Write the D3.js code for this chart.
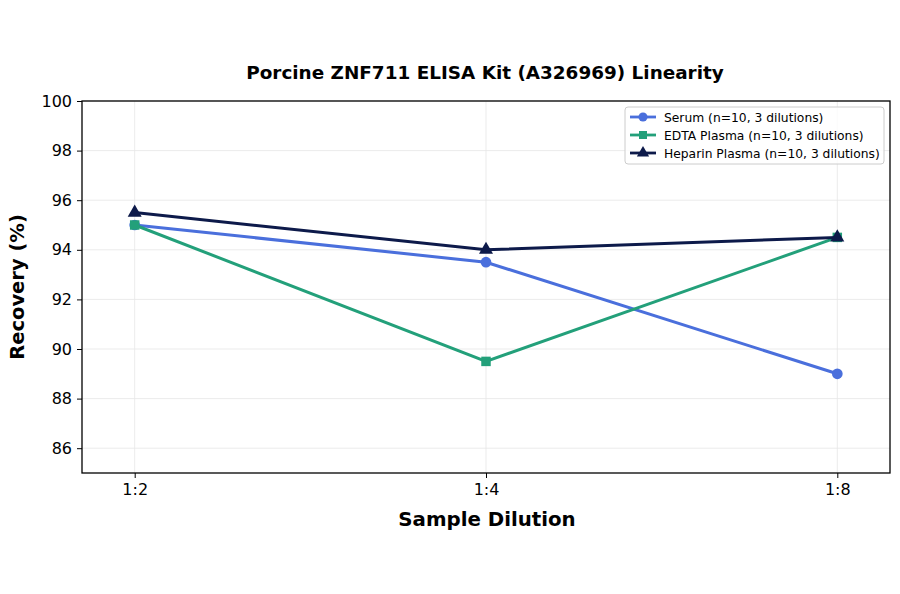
<!DOCTYPE html>
<html>
<head>
<meta charset="utf-8">
<style>
  body { margin: 0; background: #fff; }
  svg { font-family: "DejaVu Sans", sans-serif; }
  .grid line { stroke: #e6e6e6; stroke-width: 0.8px; }
  .axis path, .axis line { stroke: #000; }
  .axis text { fill: #000; }
</style>
</head>
<body>
<div id="chart"></div>
<script src="https://cdnjs.cloudflare.com/ajax/libs/d3/7.8.5/d3.min.js"></script>
<script>
  // data
  var dilutions = ["1:2", "1:4", "1:8"];
  var serum = [95.0, 93.5, 89.0];
  var edta = [95.0, 89.5, 94.5];
  var heparin = [95.5, 94.0, 94.5];
  var seriesNames = ["Serum (n=10, 3 dilutions)", "EDTA Plasma (n=10, 3 dilutions)", "Heparin Plasma (n=10, 3 dilutions)"];
  var yTicks = [86, 88, 90, 92, 94, 96, 98, 100];

  var series = [
    { name: seriesNames[0], values: serum, color: "#4a6fdc", shape: d3.symbolCircle },
    { name: seriesNames[1], values: edta, color: "#23a07a", shape: d3.symbolSquare },
    { name: seriesNames[2], values: heparin, color: "#0d1a4a", shape: d3.symbolTriangle }
  ];

  var width = 900, height = 594;
  var margin = { top: 101, right: 10, bottom: 121, left: 82 };
  var innerW = width - margin.left - margin.right,
    innerH = height - margin.top - margin.bottom;

  var svg = d3.select("#chart").append("svg")
    .attr("width", width)
    .attr("height", height);

  var g = svg.append("g")
    .attr("transform", "translate(" + margin.left + "," + margin.top + ")");

  var x = d3.scaleLinear().domain([-0.15, 2.15]).range([0, innerW]);
  var y = d3.scaleLinear().domain([85, 100]).range([innerH, 0]);

  // grid
  g.append("g").attr("class", "grid")
    .selectAll("line.h").data(yTicks).enter().append("line")
    .attr("x1", 0).attr("x2", innerW)
    .attr("y1", function (d) { return y(d); }).attr("y2", function (d) { return y(d); });
  g.append("g").attr("class", "grid")
    .selectAll("line.v").data(d3.range(dilutions.length)).enter().append("line")
    .attr("y1", 0).attr("y2", innerH)
    .attr("x1", function (d) { return x(d); }).attr("x2", function (d) { return x(d); });

  // axes
  var xAxis = d3.axisBottom(x)
    .tickValues(d3.range(dilutions.length))
    .tickFormat(function (d) { return dilutions[d]; })
    .tickSize(5).tickPadding(6);
  var yAxis = d3.axisLeft(y).tickValues(yTicks).tickSize(5).tickPadding(5);

  g.append("g").attr("class", "axis")
    .attr("transform", "translate(0," + innerH + ")")
    .call(xAxis)
    .attr("font-size", 16).attr("font-family", null);
  g.append("g").attr("class", "axis").call(yAxis)
    .attr("font-size", 16).attr("font-family", null);
  g.selectAll(".axis .domain").remove();

  // frame
  g.append("rect")
    .attr("width", innerW).attr("height", innerH)
    .attr("fill", "none").attr("stroke", "#000").attr("stroke-width", 1.3);

  // lines
  var line = d3.line()
    .x(function (d, i) { return x(i); })
    .y(function (d) { return y(d); });

  series.forEach(function (s) {
    g.append("path")
      .datum(s.values)
      .attr("fill", "none")
      .attr("stroke", s.color)
      .attr("stroke-width", 3)
      .attr("d", line);
    g.selectAll(null).data(s.values).enter().append("path")
      .attr("d", d3.symbol().type(s.shape).size(s.shape === d3.symbolTriangle ? 85 : 90))
      .attr("fill", s.color)
      .attr("transform", function (d, i) { return "translate(" + x(i) + "," + y(d) + ")"; });
  });

  // title & labels
  svg.append("text")
    .attr("x", margin.left + innerW / 2 - 1).attr("y", 79)
    .attr("text-anchor", "middle")
    .style("font-size", "18.4px").style("font-weight", "bold")
    .text("Porcine ZNF711 ELISA Kit (A326969) Linearity");

  svg.append("text")
    .attr("x", margin.left + innerW / 2 + 1).attr("y", 526)
    .attr("text-anchor", "middle")
    .style("font-size", "19.8px").style("font-weight", "bold")
    .text("Sample Dilution");

  svg.append("text")
    .attr("transform", "translate(24," + (margin.top + innerH / 2) + ") rotate(-90)")
    .attr("text-anchor", "middle")
    .style("font-size", "19.5px").style("font-weight", "bold")
    .text("Recovery (%)");

  // legend
  var lg = svg.append("g").attr("transform", "translate(625,107)");
  lg.append("rect")
    .attr("width", 259).attr("height", 57).attr("rx", 3)
    .attr("fill", "#fff").attr("fill-opacity", 0.8)
    .attr("stroke", "#cccccc");
  series.forEach(function (s, i) {
    var row = lg.append("g").attr("transform", "translate(0," + (10 + i * 18) + ")");
    row.append("line").attr("x1", 5).attr("x2", 31)
      .attr("stroke", s.color).attr("stroke-width", 2.8);
    row.append("path")
      .attr("d", d3.symbol().type(s.shape).size(65))
      .attr("fill", s.color)
      .attr("transform", "translate(18,0)");
    row.append("text").attr("x", 39).attr("y", 4.5)
      .style("font-size", "12.3px")
      .text(s.name);
  });
</script>
</body>
</html>
